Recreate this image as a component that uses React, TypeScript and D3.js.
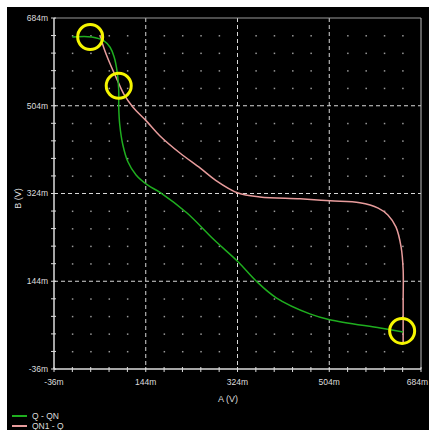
import React, { useRef, useEffect } from "react";
import * as d3 from "d3";

// values in mV
const xTicks = [-36, 144, 324, 504, 684];
const yTicks = [-36, 144, 324, 504, 684];

const qQnA = [0, 38, 62, 74, 82, 88, 91, 91, 93, 99, 109, 125, 148, 174, 225, 278, 325, 360, 400, 466, 505, 604, 649];
const qQnB = [645, 645, 637, 624, 604, 573, 536, 501, 465, 424, 389, 362, 341, 325, 284, 229, 184, 145, 110, 77, 65, 48, 40];

const qn1QA = [54, 62, 74, 88, 101, 119, 145, 172, 211, 251, 280, 325, 368, 447, 506, 564, 600, 619, 635, 645, 649, 649, 649];
const qn1QB = [649, 622, 590, 557, 528, 501, 473, 442, 407, 376, 352, 325, 317, 313, 309, 305, 294, 280, 255, 214, 167, 106, 15];

const markA = [35, 91, 647];
const markB = [645, 545, 42];

const seriesNames = ["Q - QN", "QN1 - Q"];
const seriesColors = ["#1fae1f", "#e89c9c"];

const App = () => {
  const svgRef = useRef<SVGSVGElement>(null);

  useEffect(() => {
    const svg = d3.select(svgRef.current);
    svg.selectAll("*").remove();

    const W = 429;
    const H = 430;
    const plot = { left: 54, top: 18, right: 421, bottom: 369 };

    svg.append("rect").attr("width", W).attr("height", H).attr("fill", "#fff");
    svg.append("rect").attr("x", 7).attr("y", 7).attr("width", W - 7).attr("height", H - 7).attr("fill", "#000");

    const x = d3.scaleLinear().domain([-36, 684]).range([plot.left, plot.right]);
    const y = d3.scaleLinear().domain([-36, 684]).range([plot.bottom, plot.top]);

    const minor = d3.range(-36, 685, 36);
    const font = "Liberation Sans, Arial, sans-serif";

    // minor dots
    const dots = svg.append("g").attr("fill", "#9a9a9a");
    minor.forEach((vx) => {
      minor.forEach((vy) => {
        if (xTicks.includes(vx) || yTicks.includes(vy)) return;
        dots.append("rect").attr("x", x(vx) - 0.5).attr("y", y(vy) - 0.5).attr("width", 1.5).attr("height", 1.5);
      });
    });

    // major dashed grid
    const grid = svg.append("g").attr("stroke", "#d8d8d8").attr("stroke-width", 1).attr("stroke-dasharray", "4,3");
    xTicks.slice(1, -1).forEach((v) => {
      grid.append("line").attr("x1", x(v)).attr("x2", x(v)).attr("y1", plot.top).attr("y2", plot.bottom);
    });
    yTicks.slice(1, -1).forEach((v) => {
      grid.append("line").attr("y1", y(v)).attr("y2", y(v)).attr("x1", plot.left).attr("x2", plot.right);
    });

    // frame
    svg.append("line").attr("x1", plot.left).attr("x2", plot.right).attr("y1", plot.top).attr("y2", plot.top).attr("stroke", "#9a9a9a");
    svg.append("line").attr("x1", plot.right).attr("x2", plot.right).attr("y1", plot.top).attr("y2", plot.bottom).attr("stroke", "#bbb");
    svg.append("line").attr("x1", plot.left).attr("x2", plot.right).attr("y1", plot.bottom).attr("y2", plot.bottom).attr("stroke", "#ddd").attr("stroke-width", 1.5);
    svg.append("line").attr("x1", plot.left).attr("x2", plot.left).attr("y1", plot.top).attr("y2", plot.bottom).attr("stroke", "#ddd").attr("stroke-width", 1.5);

    // small tick marks on axes
    const ticks = svg.append("g").attr("stroke", "#ddd").attr("stroke-width", 1);
    minor.forEach((v) => {
      ticks.append("line").attr("x1", x(v)).attr("x2", x(v)).attr("y1", plot.bottom - 2).attr("y2", plot.bottom + 3);
      ticks.append("line").attr("y1", y(v)).attr("y2", y(v)).attr("x1", plot.left - 3).attr("x2", plot.left + 2);
    });

    // tick labels
    svg.append("g").selectAll("text").data(yTicks).join("text")
      .attr("x", plot.left - 6).attr("y", (d) => y(d)).attr("dy", "0.35em")
      .attr("text-anchor", "end").attr("fill", "#ddd").attr("font-family", font).attr("font-size", 8.5)
      .text((d) => `${d}m`);
    svg.append("g").selectAll("text").data(xTicks).join("text")
      .attr("x", (d, i) => (i === xTicks.length - 1 ? 428 : x(d))).attr("y", plot.bottom + 16)
      .attr("text-anchor", (d, i) => (i === xTicks.length - 1 ? "end" : "middle"))
      .attr("fill", "#ddd").attr("font-family", font).attr("font-size", 8.5)
      .text((d) => `${d}m`);

    svg.append("text").attr("x", 228).attr("y", 402).attr("text-anchor", "middle")
      .attr("fill", "#ddd").attr("font-family", font).attr("font-size", 9).text("A (V)");
    svg.append("text").attr("transform", `translate(21,${(plot.top + plot.bottom) / 2 + 5}) rotate(-90)`)
      .attr("text-anchor", "middle").attr("fill", "#ddd").attr("font-family", font).attr("font-size", 9).text("B (V)");

    // curves
    const line = d3.line<[number, number]>().x((d) => x(d[0])).y((d) => y(d[1])).curve(d3.curveCatmullRom.alpha(0.5));
    const series = [
      d3.zip(qQnA, qQnB) as [number, number][],
      d3.zip(qn1QA, qn1QB) as [number, number][],
    ];
    [1, 0].forEach((i) => {
      svg.append("path").attr("d", line(series[i])).attr("fill", "none")
        .attr("stroke", seriesColors[i]).attr("stroke-width", 1.5);
    });

    // highlight circles
    svg.append("g").selectAll("circle").data(d3.zip(markA, markB)).join("circle")
      .attr("cx", (d) => x(d[0])).attr("cy", (d) => y(d[1])).attr("r", 12.5)
      .attr("fill", "none").attr("stroke", "#f5f500").attr("stroke-width", 3);

    // legend
    const legend = svg.append("g");
    seriesNames.forEach((name, i) => {
      const ly = 416 + i * 10;
      legend.append("line").attr("x1", 12).attr("x2", 27).attr("y1", ly).attr("y2", ly)
        .attr("stroke", seriesColors[i]).attr("stroke-width", 2);
      legend.append("text").attr("x", 32).attr("y", ly).attr("dy", "0.35em")
        .attr("fill", "#ddd").attr("font-family", font).attr("font-size", 8.5).text(name);
    });
  }, []);

  return (
    <svg
      ref={svgRef}
      width={429}
      height={430}
      style={{ position: "absolute", left: 0, top: 0, display: "block" }}
    ></svg>
  );
};

export default App;
